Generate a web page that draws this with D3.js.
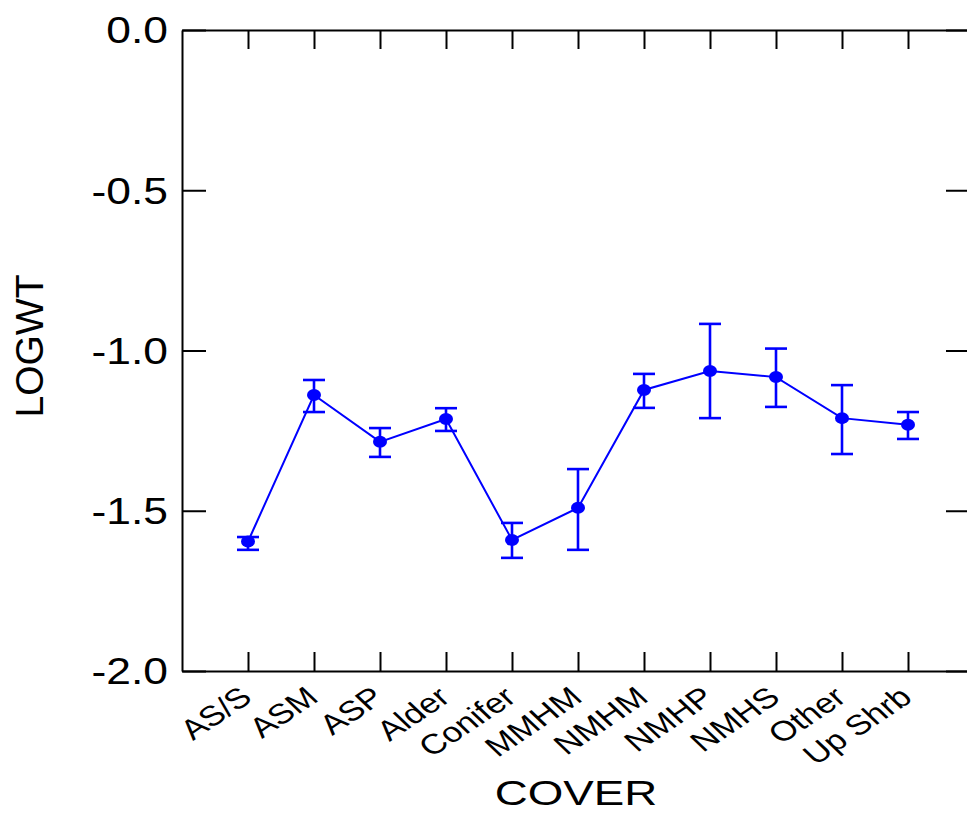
<!DOCTYPE html>
<meta charset="utf-8">
<title>LOGWT by COVER</title>
<script src="https://cdn.jsdelivr.net/npm/d3@7"></script>
<style>
body { margin:0; background:#fff; }
svg { display:block; font-family:"Liberation Sans", Arial, sans-serif; }
.axis path, .axis line { stroke:#000; stroke-width:2; }
</style>
<svg width="967" height="813"></svg>
<script>

var covers = ["AS/S","ASM","ASP","Alder","Conifer","MMHM","NMHM","NMHP","NMHS","Other","Up Shrb"];
var means  = [-1.596,-1.139,-1.285,-1.214,-1.591,-1.491,-1.123,-1.064,-1.083,-1.211,-1.232];
var upper  = [-1.582,-1.092,-1.242,-1.180,-1.538,-1.370,-1.073,-0.917,-0.994,-1.108,-1.192];
var lower  = [-1.622,-1.192,-1.332,-1.251,-1.647,-1.622,-1.179,-1.211,-1.176,-1.323,-1.276];
var yTicks = [0, -0.5, -1.0, -1.5, -2.0];

var svg = d3.select("svg"),
    margin = {top: 30, left: 182, bottom: 671, right: 970};

var x = d3.scaleLinear().domain([0, 12]).range([182, 974]),
    y = d3.scaleLinear().domain([-2, 0]).range([671, 30]);

var data = covers.map(function(c, i) {
  return {cover: c, pos: i + 1, mean: means[i], lo: lower[i], hi: upper[i]};
});
var pos = data.map(function(d) { return d.pos; });

// frame with inward ticks
svg.append("g").attr("class", "axis")
    .attr("transform", "translate(" + margin.left + ",0)")
    .call(d3.axisLeft(y).tickValues(yTicks).tickSize(-24).tickSizeOuter(0).tickFormat(""));
svg.append("g").attr("class", "axis")
    .attr("transform", "translate(" + margin.right + ",0)")
    .call(d3.axisRight(y).tickValues(yTicks).tickSize(-24).tickSizeOuter(0).tickFormat(""));
svg.append("g").attr("class", "axis")
    .attr("transform", "translate(0," + margin.bottom + ")")
    .call(d3.axisBottom(x).tickValues(pos).tickSize(-19).tickSizeOuter(0).tickFormat(""));
svg.append("g").attr("class", "axis")
    .attr("transform", "translate(0," + margin.top + ")")
    .call(d3.axisTop(x).tickValues(pos).tickSize(-19).tickSizeOuter(0).tickFormat(""));

// y tick labels (wide look of the original)
svg.append("g").selectAll("text")
    .data(yTicks)
  .enter().append("text")
    .attr("transform", function(d) { return "translate(168," + y(d) + ") scale(1.2,1)"; })
    .attr("text-anchor", "end")
    .attr("dy", "0.36em")
    .style("font-size", "37px")
    .text(function(d) { return d3.format(".1f")(d).replace("−", "-"); });

// x tick labels
svg.append("g").selectAll("text")
    .data(data)
  .enter().append("text")
    .attr("transform", function(d) { return "translate(" + (x(d.pos) + 6) + ",700) scale(1.25,1) rotate(-40)"; })
    .attr("text-anchor", "end")
    .style("font-size", "28px")
    .text(function(d) { return d.cover; });

// axis titles
svg.append("text")
    .attr("transform", "translate(43,346) rotate(-90)")
    .attr("text-anchor", "middle")
    .style("font-size", "39px")
    .text("LOGWT");
svg.append("text")
    .attr("transform", "translate(576,805) scale(1.27,1)")
    .attr("text-anchor", "middle")
    .style("font-size", "36px")
    .text("COVER");

// error bars
var eb = svg.append("g").attr("stroke", "#0000ff").attr("stroke-width", 2.6);
eb.selectAll(".v").data(data).enter().append("line")
    .attr("x1", function(d) { return x(d.pos); })
    .attr("x2", function(d) { return x(d.pos); })
    .attr("y1", function(d) { return y(d.hi); })
    .attr("y2", function(d) { return y(d.lo); });
["hi", "lo"].forEach(function(k) {
  eb.selectAll(".c" + k).data(data).enter().append("line")
      .attr("x1", function(d) { return x(d.pos) - 11; })
      .attr("x2", function(d) { return x(d.pos) + 11; })
      .attr("y1", function(d) { return y(d[k]); })
      .attr("y2", function(d) { return y(d[k]); });
});

// mean line
svg.append("path")
    .datum(data)
    .attr("fill", "none")
    .attr("stroke", "#0000ff")
    .attr("stroke-width", 2)
    .attr("d", d3.line().x(function(d) { return x(d.pos); }).y(function(d) { return y(d.mean); }));

svg.append("g").selectAll("ellipse")
    .data(data)
  .enter().append("ellipse")
    .attr("cx", function(d) { return x(d.pos); })
    .attr("cy", function(d) { return y(d.mean); })
    .attr("rx", 7)
    .attr("ry", 6)
    .attr("fill", "#0000ff");

</script>
</html>
